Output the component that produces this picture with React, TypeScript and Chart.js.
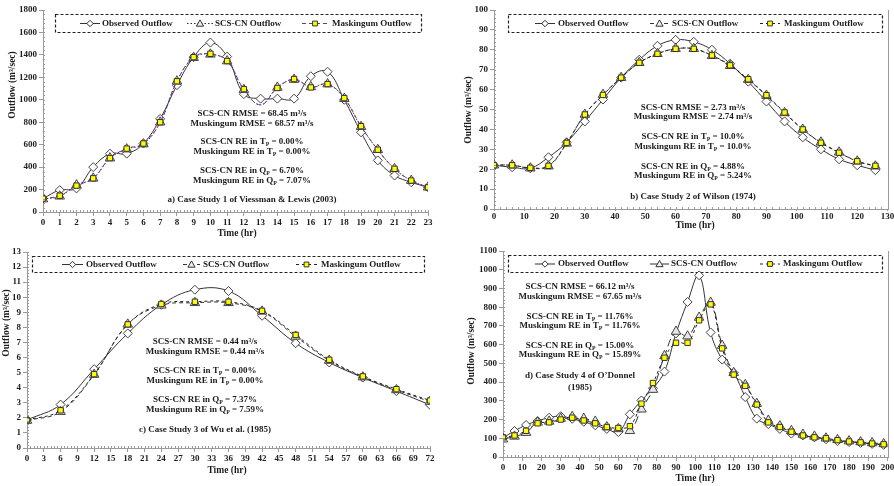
import React, { useEffect, useRef } from "react";
import { Chart, registerables } from "chart.js";
Chart.register(...registerables);

const FONT = "'Liberation Serif', 'Times New Roman', serif";
const W = 894;
const H = 486;
const AX = "#9a9a9a";
const TXT = "#1c1c1c";

// ---------- a) Case Study 1 of Viessman & Lewis (2003)
const timeA = [0, 1, 2, 3, 4, 5, 6, 7, 8, 9, 10, 11, 12, 13, 14, 15, 16, 17, 18, 19, 20, 21, 22, 23];
const obsA = [120, 195, 210, 400, 520, 520, 610, 830, 1130, 1380, 1510, 1385, 1050, 1010, 1010, 1010, 1210, 1250, 1000, 710, 460, 325, 265, 220];
const scsA = [115, 140, 240, 300, 480, 560, 605, 800, 1165, 1375, 1405, 1345, 1090, 955, 1110, 1180, 1115, 1140, 1010, 760, 555, 385, 280, 220];
const muskA = [120, 145, 235, 300, 480, 565, 610, 800, 1165, 1380, 1410, 1345, 1095, 955, 1105, 1185, 1110, 1140, 1015, 765, 555, 385, 280, 220];
const notesA = [
  "SCS-CN RMSE = 68.45 m³/s",
  "Muskingum RMSE = 68.57 m³/s",
  "SCS-CN RE in T_P = 0.00%",
  "Muskingum RE in T_P = 0.00%",
  "SCS-CN RE in Q_P = 6.70%",
  "Muskingum RE in Q_P = 7.07%",
  "a) Case Study 1 of Viessman & Lewis (2003)",
];

// ---------- b) Case Study 2 of Wilson (1974)
const timeB = [0, 6, 12, 18, 24, 30, 36, 42, 48, 54, 60, 66, 72, 78, 84, 90, 96, 102, 108, 114, 120, 126];
const obsB = [22, 21, 20.5, 26, 33.5, 44, 55, 66, 75, 82, 85, 84, 80, 73, 64, 54, 44, 36, 30, 25, 22, 19.5];
const scsB = [22, 22, 20.5, 21.5, 33, 47.5, 57.5, 66, 73.5, 78, 80.5, 80.5, 77, 72, 65, 57, 48.3, 40, 33.5, 28.5, 24, 21.5];
const muskB = [22, 22, 20.7, 21.7, 33.2, 47.5, 57.3, 66, 73.5, 78, 80.5, 80.5, 77.2, 72.2, 65.2, 57.2, 48.5, 40, 33.3, 28.3, 24, 21.7];
const notesB = [
  "SCS-CN RMSE = 2.73 m³/s",
  "Muskingum RMSE = 2.74 m³/s",
  "SCS-CN RE in T_P = 10.0%",
  "Muskingum RE in T_P = 10.0%",
  "SCS-CN RE in Q_P = 4.88%",
  "Muskingum RE in Q_P = 5.24%",
  "b) Case Study 2 of Wilson (1974)",
];

// ---------- c) Case Study 3 of Wu et al. (1985)
const timeC = [0, 6, 12, 18, 24, 30, 36, 42, 48, 54, 60, 66, 72];
const obsC = [1.86, 2.88, 5.23, 7.6, 9.5, 10.5, 10.41, 8.77, 6.95, 5.67, 4.67, 3.77, 2.86];
const scsC = [1.82, 2.41, 4.87, 8.2, 9.46, 9.63, 9.63, 9.06, 7.4, 5.8, 4.7, 3.85, 3.08];
const muskC = [1.85, 2.5, 4.9, 8.2, 9.55, 9.7, 9.7, 9.1, 7.5, 5.85, 4.75, 3.9, 3.15];
const notesC = [
  "SCS-CN RMSE = 0.44 m³/s",
  "Muskingum RMSE = 0.44 m³/s",
  "SCS-CN RE in T_P = 0.00%",
  "Muskingum RE in T_P = 0.00%",
  "SCS-CN RE in Q_P = 7.37%",
  "Muskingum RE in Q_P = 7.59%",
  "c) Case Study 3 of Wu et al. (1985)",
];

// ---------- d) Case Study 4 of O'Donnel (1985)
const timeD = [0, 6, 12, 18, 24, 30, 36, 42, 48, 54, 60, 66, 72, 78, 84, 90, 96, 102, 108, 114, 120, 126, 132, 138, 144, 150, 156, 162, 168, 174, 180, 186, 192, 198];
const obsD = [103, 139, 171, 192, 210, 218, 204, 188, 169, 150, 133, 228, 302, 367, 456, 660, 828, 970, 665, 520, 450, 320, 205, 175, 150, 125, 115, 105, 95, 85, 80, 75, 70, 65];
const scsD = [95, 110, 130, 185, 190, 205, 215, 205, 190, 160, 150, 140, 255, 360, 540, 670, 645, 745, 825, 595, 450, 385, 285, 195, 165, 140, 120, 110, 100, 92, 85, 80, 75, 70];
const muskD = [105, 115, 140, 180, 185, 200, 210, 195, 180, 160, 155, 165, 285, 395, 530, 610, 610, 730, 815, 580, 440, 380, 280, 185, 160, 135, 115, 105, 100, 90, 83, 78, 72, 68];
const notesD = [
  "SCS-CN RMSE = 66.12 m³/s",
  "Muskingum RMSE = 67.65 m³/s",
  "SCS-CN RE in T_P = 11.76%",
  "Muskingum RE in T_P = 11.76%",
  "SCS-CN RE in Q_P = 15.00%",
  "Muskingum RE in Q_P = 15.89%",
  "d) Case Study 4 of O’Donnel",
  "(1985)",
];

const legendLabels = ["Observed Outflow", "SCS-CN Outflow", "Maskingum Outflow"];

type Panel = {
  x: number[]; obs: number[]; scs: number[]; musk: number[];
  xMax: number; xStep: number; xMinor: number; yMax: number; yStep: number;
  area: { l: number; t: number; r: number; b: number };
  tickLen: number; tickPad: number;
  xTitle: [number, number]; yTitle: [number, number];
  box: [number, number, number, number];
  items: { s: [number, number]; t: number }[];
  notes: string[]; notesX: number; notesY: number[];
  scsDash: number[]; scsColor: string; muskDash: number[]; muskColor: string;
  rightBorder: boolean; hideIdx: number;
};

const panels: Panel[] = [
  {
    x: timeA, obs: obsA, scs: scsA, musk: muskA,
    xMax: 23, xStep: 1, xMinor: 0.2, yMax: 1800, yStep: 200,
    area: { l: 43, t: 10, r: 428, b: 212 }, tickLen: 4, tickPad: 1,
    xTitle: [237, 234], yTitle: [13, 85],
    box: [55, 14, 421, 32],
    items: [{ s: [80, 100], t: 102 }, { s: [187, 213], t: 215 }, { s: [302, 328], t: 332 }],
    notes: notesA, notesX: 252, notesY: [114, 124, 142, 152, 171, 181, 200],
    scsDash: [1.5, 2], scsColor: "#333", muskDash: [4, 3], muskColor: "#7030a0",
    rightBorder: false, hideIdx: 13,
  },
  {
    x: timeB, obs: obsB, scs: scsB, musk: muskB,
    xMax: 130, xStep: 10, xMinor: 2, yMax: 100, yStep: 10,
    area: { l: 494, t: 10, r: 888, b: 209 }, tickLen: 2, tickPad: 0,
    xTitle: [695, 226], yTitle: [469, 110],
    box: [508, 14, 882, 32],
    items: [{ s: [535, 555], t: 558 }, { s: [650, 669], t: 672 }, { s: [760, 780], t: 784 }],
    notes: notesB, notesX: 693, notesY: [108, 117, 137, 147, 167, 176, 197],
    scsDash: [4, 3], scsColor: "#333", muskDash: [3, 3], muskColor: "#222",
    rightBorder: true, hideIdx: -1,
  },
  {
    x: timeC, obs: obsC, scs: scsC, musk: muskC,
    xMax: 72, xStep: 3, xMinor: 0.6, yMax: 13, yStep: 1,
    area: { l: 27, t: 252, r: 430, b: 448 }, tickLen: 4, tickPad: 1,
    xTitle: [227, 471], yTitle: [7, 323],
    box: [32, 256, 424, 272],
    items: [{ s: [62, 83], t: 86 }, { s: [183, 200], t: 203 }, { s: [296, 317], t: 321 }],
    notes: notesC, notesX: 205, notesY: [342, 352, 371, 381, 400, 410, 430],
    scsDash: [4, 3], scsColor: "#333", muskDash: [3, 3], muskColor: "#222",
    rightBorder: false, hideIdx: -1,
  },
  {
    x: timeD, obs: obsD, scs: scsD, musk: muskD,
    xMax: 200, xStep: 10, xMinor: 2, yMax: 1100, yStep: 100,
    area: { l: 503, t: 251, r: 889, b: 457 }, tickLen: 4, tickPad: 1,
    xTitle: [695, 479], yTitle: [472, 351],
    box: [508, 255, 882, 272],
    items: [{ s: [535, 555], t: 558 }, { s: [650, 669], t: 671 }, { s: [760, 780], t: 783 }],
    notes: notesD, notesX: 580, notesY: [287, 297, 317, 326, 346, 355, 376, 388],
    scsDash: [8, 4], scsColor: "#333", muskDash: [3, 3], muskColor: "#222",
    rightBorder: true, hideIdx: -1,
  },
];

function drawRich(ctx: CanvasRenderingContext2D, s: string, cx: number, y: number, size: number) {
  const parts = s.split("_P");
  const segs: { t: string; sub: boolean }[] = [];
  parts.forEach((p, i) => {
    if (i > 0) segs.push({ t: "P", sub: true });
    if (p) segs.push({ t: p, sub: false });
  });
  const fMain = `bold ${size}px ${FONT}`;
  const fSub = `bold ${size * 0.65}px ${FONT}`;
  let w = 0;
  segs.forEach((sg) => { ctx.font = sg.sub ? fSub : fMain; w += ctx.measureText(sg.t).width; });
  let x = cx - w / 2;
  ctx.textAlign = "left";
  ctx.textBaseline = "middle";
  segs.forEach((sg) => {
    ctx.font = sg.sub ? fSub : fMain;
    ctx.fillText(sg.t, x, sg.sub ? y + size * 0.3 : y);
    x += ctx.measureText(sg.t).width;
  });
}

function drawMarker(ctx: CanvasRenderingContext2D, kind: number, x: number, y: number) {
  ctx.save();
  ctx.setLineDash([]);
  ctx.lineWidth = 1;
  ctx.strokeStyle = "#333";
  ctx.beginPath();
  if (kind === 0) {
    const r = 3.2;
    ctx.moveTo(x, y - r); ctx.lineTo(x + r, y); ctx.lineTo(x, y + r); ctx.lineTo(x - r, y); ctx.closePath();
    ctx.fillStyle = "#fff";
  } else if (kind === 1) {
    const r = 3.6;
    ctx.moveTo(x, y - r); ctx.lineTo(x + r, y + r * 0.75); ctx.lineTo(x - r, y + r * 0.75); ctx.closePath();
    ctx.fillStyle = "#eee";
  } else {
    const r = 2.4;
    ctx.rect(x - r, y - r, 2 * r, 2 * r);
    ctx.fillStyle = "#ffff00";
  }
  ctx.fill();
  ctx.stroke();
  ctx.restore();
}

function decor(p: Panel) {
  return {
    id: "decor",
    beforeDatasetsDraw(chart: any) {
      const ctx: CanvasRenderingContext2D = chart.ctx;
      ctx.save();
      const [x1, y1, x2, y2] = p.box;
      ctx.fillStyle = "#fff";
      ctx.fillRect(x1, y1, x2 - x1, y2 - y1);
      ctx.setLineDash([3, 2]);
      ctx.strokeStyle = "#222";
      ctx.lineWidth = 1.2;
      ctx.strokeRect(x1 + 0.5, y1 + 0.5, x2 - x1, y2 - y1);
      const cy = (y1 + y2) / 2 + 0.5;
      const styles = [
        { dash: [] as number[], color: "#333" },
        { dash: p.scsDash, color: p.scsColor },
        { dash: p.muskDash, color: p.muskColor },
      ];
      p.items.forEach((it, i) => {
        ctx.setLineDash(styles[i].dash);
        ctx.strokeStyle = styles[i].color;
        ctx.lineWidth = 1;
        ctx.beginPath();
        ctx.moveTo(it.s[0], cy);
        ctx.lineTo(it.s[1], cy);
        ctx.stroke();
        drawMarker(ctx, i, (it.s[0] + it.s[1]) / 2, cy);
        ctx.fillStyle = TXT;
        ctx.font = `bold 9px ${FONT}`;
        ctx.textAlign = "left";
        ctx.textBaseline = "middle";
        ctx.fillText(legendLabels[i], it.t, cy);
      });
      ctx.restore();
    },
    afterDraw(chart: any) {
      const ctx: CanvasRenderingContext2D = chart.ctx;
      const xs = chart.scales.x;
      const ys = chart.scales.y;
      const { left, right, top, bottom } = chart.chartArea;
      ctx.save();
      ctx.strokeStyle = AX;
      ctx.lineWidth = 1;
      ctx.setLineDash([]);
      ctx.beginPath();
      for (let v = 0; v <= p.xMax + 1e-9; v += p.xMinor) {
        const px = Math.round(xs.getPixelForValue(v)) + 0.5;
        ctx.moveTo(px, bottom - 2);
        ctx.lineTo(px, bottom + 1);
      }
      const ym = p.yStep / 5;
      for (let v = 0; v <= p.yMax + 1e-9; v += ym) {
        const py = Math.round(ys.getPixelForValue(v)) + 0.5;
        ctx.moveTo(left, py);
        ctx.lineTo(left + 2, py);
      }
      if (p.rightBorder) {
        ctx.moveTo(Math.round(right) + 0.5, top);
        ctx.lineTo(Math.round(right) + 0.5, bottom);
      }
      ctx.stroke();

      ctx.fillStyle = TXT;
      p.notes.forEach((n, i) => drawRich(ctx, n, p.notesX, p.notesY[i], 9));

      ctx.font = `bold 9.5px ${FONT}`;
      ctx.textAlign = "center";
      ctx.textBaseline = "middle";
      ctx.fillText("Time (hr)", p.xTitle[0], p.xTitle[1]);
      ctx.save();
      ctx.translate(p.yTitle[0], p.yTitle[1]);
      ctx.rotate(-Math.PI / 2);
      ctx.fillText("Outflow (m³/sec)", 0, 0);
      ctx.restore();
      ctx.restore();
    },
  };
}

const YW = 30;
const XH = 22;

function PanelChart({ p }: { p: Panel }) {
  const ref = useRef<HTMLCanvasElement>(null);
  useEffect(() => {
    const canvas = ref.current!;
    const mk = (ys: number[]) => p.x.map((x, i) => ({ x, y: ys[i] }));
    const radius = (base: number) => (c: any) => (c.dataIndex === p.hideIdx ? 0 : base);
    const tickFont = { family: FONT, size: 9, weight: "bold" as const };
    const plain = (v: any) => String(Math.round(Number(v) * 1000) / 1000);
    const chart = new Chart(canvas, {
      type: "line",
      data: {
        datasets: [
          {
            label: legendLabels[0], data: mk(p.obs), borderColor: "#333", borderWidth: 1,
            pointStyle: "rectRot", pointRadius: 4.5, pointBackgroundColor: "#fff",
            pointBorderColor: "#444", pointBorderWidth: 1, tension: 0.4, order: 3,
          },
          {
            label: legendLabels[1], data: mk(p.scs), borderColor: p.scsColor, borderWidth: 1,
            borderDash: p.scsDash, pointStyle: "triangle", pointRadius: radius(5.5) as any,
            pointBackgroundColor: "#e6e6e6", pointBorderColor: "#444", pointBorderWidth: 1,
            tension: 0.4, order: 2,
          },
          {
            label: legendLabels[2], data: mk(p.musk), borderColor: p.muskColor, borderWidth: 1,
            borderDash: p.muskDash, pointStyle: "rect", pointRadius: radius(3.8) as any,
            pointBackgroundColor: "#ffff00", pointBorderColor: "#333", pointBorderWidth: 1,
            tension: 0.4, order: 1,
          },
        ],
      },
      options: {
        animation: false,
        responsive: false,
        maintainAspectRatio: false,
        layout: {
          padding: { left: p.area.l - YW, top: p.area.t, right: W - p.area.r, bottom: H - p.area.b - XH },
        },
        plugins: { legend: { display: false }, tooltip: { enabled: false } },
        scales: {
          x: {
            type: "linear", min: 0, max: p.xMax,
            ticks: { stepSize: p.xStep, font: tickFont, color: TXT, padding: p.tickPad, maxRotation: 0, autoSkip: false, callback: plain },
            grid: { drawOnChartArea: false, tickLength: p.tickLen, color: AX },
            border: { color: AX },
            afterFit: (s: any) => { s.height = XH; s.paddingLeft = 0; s.paddingRight = 0; },
          },
          y: {
            type: "linear", min: 0, max: p.yMax,
            ticks: { stepSize: p.yStep, font: tickFont, color: TXT, padding: 2, callback: plain },
            grid: { drawOnChartArea: false, tickLength: 4, color: AX },
            border: { color: AX },
            afterFit: (s: any) => { s.width = YW; s.paddingTop = 0; s.paddingBottom = 0; },
          },
        },
      } as any,
      plugins: [decor(p)],
    });
    return () => chart.destroy();
  }, []);
  return <canvas ref={ref} width={W} height={H} style={{ position: "absolute", left: 0, top: 0 }} />;
}

export default function App() {
  return (
    <div style={{ position: "absolute", left: 0, top: 0, width: W, height: H, background: "#fff" }}>
      {panels.map((p, i) => (
        <PanelChart key={i} p={p} />
      ))}
    </div>
  );
}
